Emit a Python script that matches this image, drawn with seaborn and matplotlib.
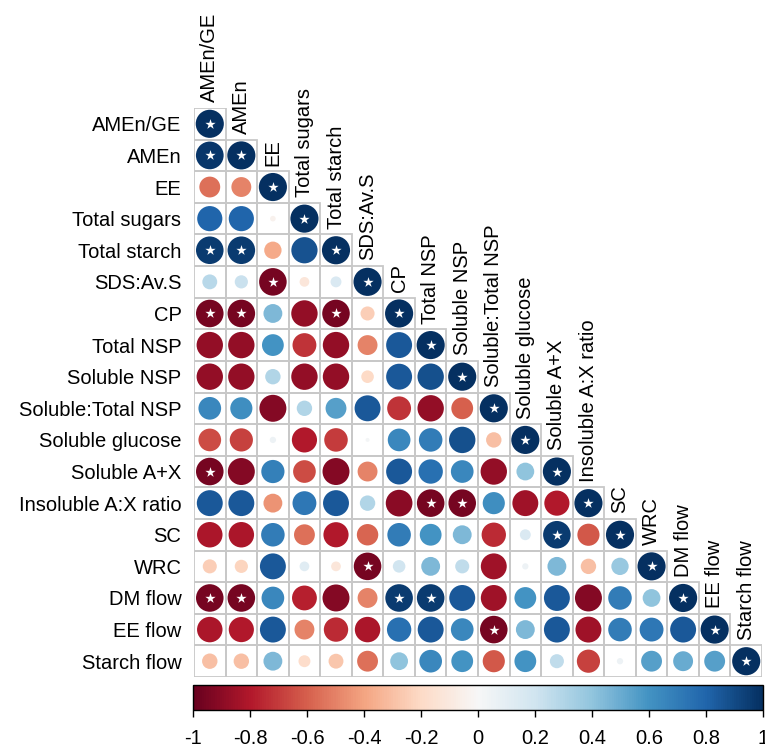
import numpy as np
import pandas as pd
import matplotlib
matplotlib.use("Agg")
import matplotlib.pyplot as plt
from matplotlib.patches import Rectangle
from matplotlib.cm import ScalarMappable
from matplotlib.colors import Normalize
import seaborn as sns

variables = [
    "AMEn/GE", "AMEn", "EE", "Total sugars", "Total starch", "SDS:Av.S",
    "CP", "Total NSP", "Soluble NSP", "Soluble:Total NSP", "Soluble glucose",
    "Soluble A+X", "Insoluble A:X ratio", "SC", "WRC", "DM flow", "EE flow",
    "Starch flow",
]

# Lower triangle of the correlation matrix, one list per row
lower_r = [
    [1.00],
    [0.97, 1.00],
    [-0.55, -0.50, 1.00],
    [0.80, 0.80, -0.04, 1.00],
    [0.96, 0.96, -0.38, 0.87, 1.00],
    [0.28, 0.22, -0.96, -0.12, 0.15, 1.00],
    [-0.96, -0.96, 0.45, -0.88, -0.96, -0.25, 1.00],
    [-0.88, -0.88, 0.60, -0.72, -0.88, -0.50, 0.85, 1.00],
    [-0.88, -0.88, 0.30, -0.88, -0.88, -0.20, 0.85, 0.88, 1.00],
    [0.65, 0.62, -0.92, 0.30, 0.55, 0.85, -0.72, -0.88, -0.60, 1.00],
    [-0.65, -0.68, 0.05, -0.80, -0.70, 0.02, 0.65, 0.70, 0.88, -0.30, 1.00],
    [-0.96, -0.92, 0.68, -0.65, -0.92, -0.50, 0.85, 0.75, 0.65, -0.88, 0.40, 1.00],
    [0.85, 0.85, -0.45, 0.72, 0.85, 0.30, -0.90, -0.96, -0.96, 0.62, -0.85, -0.80, 1.00],
    [-0.82, -0.82, 0.70, -0.55, -0.80, -0.58, 0.70, 0.60, 0.45, -0.75, 0.15, 0.96, -0.62, 1.00],
    [-0.25, -0.22, 0.85, 0.12, -0.12, -0.96, 0.20, 0.45, 0.25, -0.85, 0.05, 0.45, -0.30, 0.38, 1.00],
    [-0.96, -0.96, 0.65, -0.78, -0.92, -0.50, 0.96, 0.96, 0.85, -0.85, 0.60, 0.85, -0.92, 0.70, 0.40, 1.00],
    [-0.82, -0.80, 0.85, -0.50, -0.75, -0.82, 0.75, 0.85, 0.65, -0.96, 0.45, 0.85, -0.85, 0.70, 0.72, 0.85, 1.00],
    [-0.30, -0.30, 0.45, -0.18, -0.28, -0.55, 0.40, 0.65, 0.60, -0.62, 0.60, 0.25, -0.68, 0.05, 0.55, 0.50, 0.55, 1.00],
]

# Off-diagonal pairs (row, column) marked as significant
sig_pairs = [
    (1, 0), (4, 0), (4, 1), (5, 2), (6, 0), (6, 1), (6, 4), (11, 0),
    (12, 7), (12, 8), (13, 11), (14, 5), (15, 0), (15, 1), (15, 6), (15, 7),
    (16, 9),
]

cbar_ticks = [-1, -0.8, -0.6, -0.4, -0.2, 0, 0.2, 0.4, 0.6, 0.8, 1]
cbar_ticklabels = ["-1", "-0.8", "-0.6", "-0.4", "-0.2", "0", "0.2", "0.4", "0.6", "0.8", "1"]

sns.set_style("white")
plt.rcParams["font.family"] = ["Liberation Sans", "DejaVu Sans"]
plt.rcParams["text.color"] = "black"
plt.rcParams["xtick.color"] = "black"
plt.rcParams["ytick.color"] = "black"

n = len(variables)
records = []
for i, row in enumerate(lower_r):
    for j, r in enumerate(row):
        records.append({"row": i, "col": j, "r": r, "absr": abs(r)})
cells = pd.DataFrame(records)

stars = pd.DataFrame(
    [{"row": i, "col": j} for i, j in sig_pairs] + [{"row": k, "col": k} for k in range(n)]
)

W, H = 765, 753
fig = plt.figure(figsize=(W / 100, H / 100), dpi=100)
ax = fig.add_axes([194 / W, (H - 677) / H, 568 / W, 569 / H])

# cell borders of the lower triangle
for i in range(n):
    for j in range(i + 1):
        ax.add_patch(Rectangle((j - 0.5, i - 0.5), 1, 1, fill=False,
                               edgecolor="#c8c8c8", linewidth=1.3, zorder=0.5))

sns.scatterplot(data=cells, x="col", y="row", hue="r", size="absr",
                palette="RdBu", hue_norm=(-1, 1), sizes=(0, 410), size_norm=(0, 1),
                linewidth=0, legend=False, ax=ax, zorder=2)
sns.scatterplot(data=stars, x="col", y="row", marker="*", s=60, color="white",
                linewidth=0, legend=False, ax=ax, zorder=3)

ax.set_xlim(-0.5, n - 0.5)
ax.set_ylim(n - 0.5, -0.5)
ax.set_xlabel("")
ax.set_ylabel("")
ax.set_xticks([])
ax.set_yticks(range(n))
ax.set_yticklabels(variables)
ax.tick_params(axis="y", length=0, pad=9, labelsize=14.5, labelcolor="black")
for s in ax.spines.values():
    s.set_visible(False)

# column labels above the diagonal
for k, name in enumerate(variables):
    ax.annotate(name, xy=(k, k - 0.5), xytext=(0, 4), textcoords="offset points",
                rotation=90, ha="center", va="bottom", fontsize=14.5, color="black")

cax = fig.add_axes([193 / W, (H - 710) / H, 570 / W, 25 / H])
sm = ScalarMappable(norm=Normalize(-1, 1), cmap="RdBu")
cb = fig.colorbar(sm, cax=cax, orientation="horizontal")
cb.set_ticks(cbar_ticks)
cb.set_ticklabels(cbar_ticklabels)
cb.outline.set_linewidth(1.0)
cb.outline.set_edgecolor("black")
cax.tick_params(axis="x", direction="out", length=5, width=1, labelsize=14.5,
                pad=9, labelcolor="black")

fig.savefig("out.png", dpi=100)
